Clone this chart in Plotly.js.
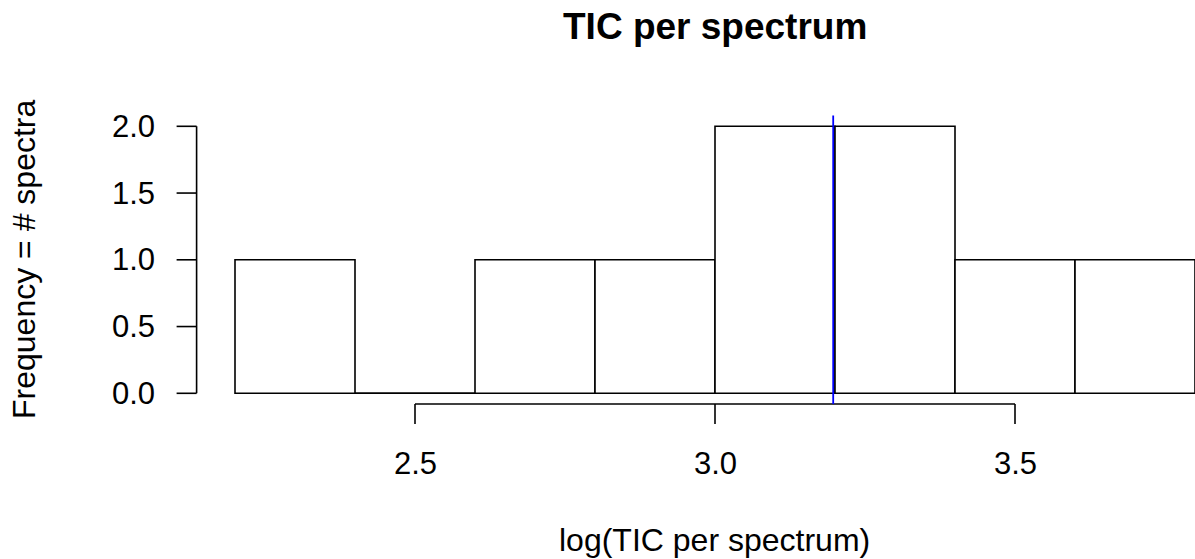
<!DOCTYPE html>
<html>
<head>
<meta charset="utf-8">
<script src="https://cdn.plot.ly/plotly-3.0.1.min.js"></script>
<style>html,body{margin:0;padding:0;background:#fff;}#chart{width:1195px;height:559px;}</style>
</head>
<body>
<div id="chart"></div>
<script>
// ---- data ----
const breaks = [2.2, 2.4, 2.6, 2.8, 3.0, 3.2, 3.4, 3.6, 3.8];
const counts = [1, 0, 1, 1, 2, 2, 1, 1];
const medianValue = 3.197;
const xTickVals = [2.5, 3.0, 3.5];
const xTickText = ["2.5", "3.0", "3.5"];
const yTickVals = [0, 0.5, 1.0, 1.5, 2.0];
const yTickText = ["0.0", "0.5", "1.0", "1.5", "2.0"];
const titleText = "TIC per spectrum";
const xLabel = "log(TIC per spectrum)";
const yLabel = "Frequency = # spectra";

// ---- geometry ----
const W = 1195, H = 559;
const pxPerX = 600, pxPerY = 133.5;
const x0px = 235, y0px = 393.3;
const xmin = breaks[0] - x0px / pxPerX;
const xmax = xmin + W / pxPerX;
const ymax = y0px / pxPerY;
const ymin = ymax - H / pxPerY;

const xr = breaks[breaks.length - 1] - breaks[0];
const yr = Math.max(...counts);
const plotLeft = breaks[0] - 0.04 * xr;   // R usr region
const plotBottom = -0.04 * yr;
const plotTop = yr + 0.04 * yr;
const tickLenX = 20 / pxPerX;
const tickLenY = 20 / pxPerY;

const mids = [], widths = [];
for (let i = 0; i < counts.length; i++) {
  mids.push((breaks[i] + breaks[i + 1]) / 2);
  widths.push(breaks[i + 1] - breaks[i]);
}

const font = "Liberation Sans, Arial, Helvetica, sans-serif";
const black = "#000000";
const lw = 1.6;
const tickFs = 31, labFs = 32, titleFs = 37;

const shapes = [];
// zero-count bins drawn as flat rectangles (baseline segment)
counts.forEach((c, i) => {
  if (c === 0) {
    shapes.push({type: "line", xref: "x", yref: "y", x0: breaks[i], x1: breaks[i + 1], y0: 0, y1: 0,
      line: {color: black, width: lw}});
  }
});
// x axis
shapes.push({type: "line", xref: "x", yref: "y", x0: xTickVals[0], x1: xTickVals[xTickVals.length - 1],
  y0: plotBottom, y1: plotBottom, line: {color: black, width: lw}});
xTickVals.forEach(v => shapes.push({type: "line", xref: "x", yref: "y", x0: v, x1: v,
  y0: plotBottom, y1: plotBottom - tickLenY, line: {color: black, width: lw}}));
// y axis
shapes.push({type: "line", xref: "x", yref: "y", x0: plotLeft, x1: plotLeft,
  y0: yTickVals[0], y1: yTickVals[yTickVals.length - 1], line: {color: black, width: lw}});
yTickVals.forEach(v => shapes.push({type: "line", xref: "x", yref: "y", x0: plotLeft, x1: plotLeft - tickLenX,
  y0: v, y1: v, line: {color: black, width: lw}}));
// median line
shapes.push({type: "line", xref: "x", yref: "y", x0: medianValue, x1: medianValue,
  y0: plotBottom, y1: plotTop, line: {color: "#0000FF", width: 1.8}, layer: "above"});

const annotations = [];
xTickVals.forEach((v, i) => annotations.push({xref: "x", yref: "paper", x: v, y: 1 - 463 / H,
  text: xTickText[i], showarrow: false, xanchor: "center", yanchor: "middle",
  font: {family: font, size: tickFs, color: black}}));
yTickVals.forEach((v, i) => annotations.push({xref: "paper", yref: "y", x: 157 / W, y: v,
  text: yTickText[i], showarrow: false, xanchor: "right", yanchor: "middle",
  font: {family: font, size: tickFs, color: black}}));
annotations.push({xref: "paper", yref: "paper", x: 715 / W, y: 1 - 27 / H, text: "<b>" + titleText + "</b>",
  showarrow: false, xanchor: "center", yanchor: "middle", font: {family: font, size: titleFs, color: black}});
annotations.push({xref: "paper", yref: "paper", x: 715 / W, y: 1 - 540 / H, text: xLabel,
  showarrow: false, xanchor: "center", yanchor: "middle", font: {family: font, size: labFs, color: black}});
annotations.push({xref: "paper", yref: "paper", x: 24 / W, y: 1 - 260 / H, text: yLabel, textangle: -90,
  showarrow: false, xanchor: "center", yanchor: "middle", font: {family: font, size: labFs, color: black}});

const trace = {
  type: "bar", x: mids, y: counts, width: widths,
  marker: {color: "#FFFFFF", line: {color: black, width: lw}},
  hoverinfo: "skip"
};

const layout = {
  width: W, height: H,
  margin: {l: 0, r: 0, t: 0, b: 0, pad: 0},
  paper_bgcolor: "#FFFFFF", plot_bgcolor: "#FFFFFF",
  showlegend: false,
  xaxis: {range: [xmin, xmax], visible: false, fixedrange: true},
  yaxis: {range: [ymin, ymax], visible: false, fixedrange: true},
  shapes: shapes, annotations: annotations, bargap: 0
};

Plotly.newPlot("chart", [trace], layout, {staticPlot: true, displayModeBar: false});
</script>
</body>
</html>
